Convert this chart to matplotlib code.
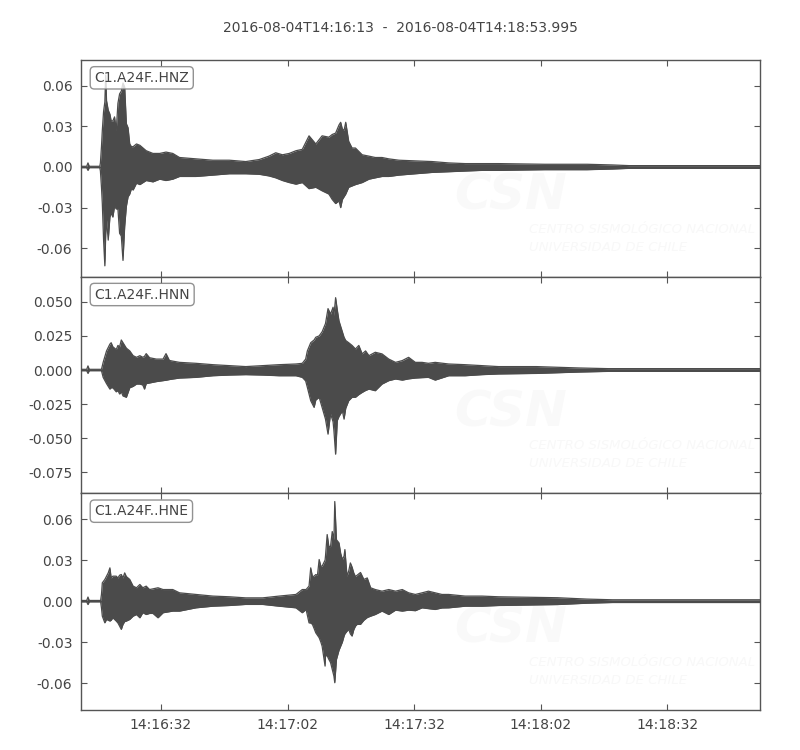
import matplotlib
matplotlib.use("Agg")
import matplotlib.pyplot as plt
import numpy as np

plt.rcParams["axes.unicode_minus"] = False

# seconds after 2016-08-04T14:16:13, amplitudes in units of 1e-3
channels = ["C1.A24F..HNZ", "C1.A24F..HNN", "C1.A24F..HNE"]
title = "2016-08-04T14:16:13  -  2016-08-04T14:18:53.995"
xtick_pos = [19, 49, 79, 109, 139]
xtick_labels = ["14:16:32", "14:17:02", "14:17:32", "14:18:02", "14:18:32"]
duration = 160.995

t_hnz = [0, 1.4, 1.7, 2.0, 4.5, 4.65, 4.9, 5.1, 5.4, 5.7, 5.9, 6.1, 6.5, 6.9, 7.2, 7.6,
         8.0, 8.4, 8.8, 9.2, 9.6, 10.0, 10.4, 10.8, 11.2, 11.6, 12.0, 12.4, 13.2, 14.0,
         15.5, 17.1, 18.7, 20.2, 21.8, 23.4, 27.3, 31.3, 35.2, 39.1, 42.3, 44.6, 46.2,
         47.8, 49.4, 51.0, 52.5, 54.1, 55.7, 57.2, 58.8, 59.6, 60.4, 61.2, 61.6, 62.0,
         62.4, 62.8, 63.5, 64.3, 65.1, 66.7, 68.3, 69.8, 71.4, 73.0, 75.4, 79.3, 83.3,
         87.2, 91.1, 95.1, 99.0, 110, 120, 126, 130, 161]
up_hnz = [0.5, 0.5, 3, 0.5, 0.5, 3, 15, 27, 41, 48, 68, 49, 42, 39, 34, 34,
          37, 27, 47, 54, 56, 62, 59, 32, 29, 17, 15, 15, 17, 16,
          12, 10, 10, 11, 10, 7, 6, 5, 5, 4, 5.5, 8, 10.5,
          9, 10, 12, 13, 23, 17, 23, 22, 24, 25, 31, 33, 28,
          27, 33, 19, 14, 14, 9, 8, 7, 7, 6, 5, 4.5, 4,
          3, 2.5, 2.5, 2.5, 2, 2, 1.5, 1, 1]
lo_hnz = [-0.5, -0.5, -2.5, -0.5, -0.5, -3, -15, -27, -54, -73, -50, -39, -54, -37, -34, -37,
          -29, -31, -31, -49, -51, -69, -44, -29, -22, -20, -16, -17, -12, -13,
          -10, -11, -9, -10, -9, -7, -7, -6, -5, -5, -5.4, -6.6, -8,
          -10, -11.5, -12.7, -11.5, -16, -15, -17.6, -20, -24, -27, -25, -30, -24,
          -22, -20, -15, -14, -13, -11.5, -9, -8, -7, -7, -6, -5, -4,
          -3.5, -3, -2.5, -2.5, -2, -2, -1.5, -1, -1]

t_hnn = [0, 1.4, 1.7, 2.0, 4.9, 5.1, 5.3, 6.1, 6.9, 7.2, 7.6, 8.4, 8.8, 9.2, 9.6, 10.0,
         10.8, 11.6, 12.4, 13.2, 14.0, 14.7, 15.1, 15.5, 16.3, 17.1, 17.9, 19.5, 20.2,
         21.0, 21.8, 23.4, 27.3, 31.3, 35.2, 39.1, 43.1, 47.0, 51.0, 52.5, 53.3, 53.7,
         54.5, 55.3, 55.7, 56.5, 57.2, 58.0, 58.6, 59.2, 59.8, 60.0, 60.4, 60.8, 61.2,
         61.6, 62.0, 62.4, 62.8, 63.5, 64.3, 65.1, 65.9, 66.7, 67.5, 68.3, 69.8, 71.4,
         73.0, 74.6, 76.2, 77.7, 79.3, 80.9, 82.4, 84.0, 87.2, 91.1, 95.1, 99.0, 108,
         118, 125, 161]
up_hnn = [0.5, 0.5, 3, 0.5, 0.5, 3, 5.6, 14, 19, 20, 17, 15, 18, 17, 22, 20,
          16, 14, 10.5, 9.3, 10.5, 9.3, 10, 12, 9, 8.5, 8, 8, 12,
          7, 6.5, 5.6, 4.9, 3.9, 3.2, 2.5, 3.2, 3.9, 4.4, 4.9, 8, 14,
          20, 22, 24, 25, 28, 34, 45, 41, 46, 40, 53, 44, 36,
          32, 28, 24, 21.6, 20, 18, 15.4, 18, 11.8, 14, 10.5, 13, 11.8,
          8, 5.6, 6.9, 9.3, 5.6, 5.6, 4.9, 5.6, 4.4, 3.9, 3.2, 2.5, 2.5,
          1.5, 1, 1]
lo_hnn = [-0.5, -0.5, -2.5, -0.5, -0.5, -3, -5.4, -10, -14, -13, -13, -16, -15, -17.6, -16, -19,
          -20, -13, -12, -10.3, -10.3, -11, -14, -10, -9.5, -9, -8.5, -7.8, -7.5,
          -7, -6.6, -5.9, -5.4, -4.2, -3.7, -3.4, -3.7, -4.2, -4.2, -5.4, -8, -12.7,
          -22.5, -27.4, -22, -20, -27.4, -36, -47, -32, -38, -44.6, -61.7, -37, -34,
          -32, -30, -36, -28, -22.5, -20, -20, -18, -16.4, -15, -14, -15.2, -10.3,
          -7.8, -6.6, -7.4, -6.5, -5.9, -5.6, -5.4, -7.4, -4.2, -4.2, -3.4, -2.9, -2.5,
          -1.5, -1, -1]

t_hne = [0, 1.4, 1.7, 2.0, 4.7, 4.9, 5.1, 5.7, 6.1, 6.5, 6.9, 7.2, 7.6, 8.4, 8.8, 9.2,
         9.6, 10.0, 10.4, 10.8, 11.6, 12.4, 13.2, 14.0, 14.7, 15.5, 16.3, 17.1, 18.3,
         19.5, 21.8, 23.4, 27.3, 31.3, 35.2, 39.1, 43.1, 47.0, 51.0, 52.5, 53.4, 54.1,
         54.5, 54.9, 55.3, 55.7, 56.1, 56.5, 56.9, 57.2, 57.9, 58.0, 58.4, 58.8, 59.2,
         59.6, 60.0, 60.2, 60.6, 61.2, 61.6, 62.0, 62.4, 62.6, 63.1, 63.5, 63.9, 64.3,
         64.7, 65.1, 65.5, 66.3, 67.1, 67.9, 68.7, 69.8, 71.4, 73.0, 74.6, 76.2, 77.7,
         79.3, 80.9, 82.4, 84.0, 85.6, 87.2, 91.1, 95.1, 99.0, 113, 120, 126, 161]
up_hne = [0.5, 0.5, 3, 0.5, 0.5, 5, 13.4, 15.9, 18.3, 20.7, 24.4, 17, 18.3, 18.3, 17, 19,
          19.5, 17, 20.7, 18, 15.9, 11, 9.8, 12.2, 9.8, 11, 8.5, 9, 9.8,
          8.5, 8.5, 6.1, 4.9, 3.7, 3.2, 2.4, 2.4, 3.7, 4.9, 8.5, 8.5, 11,
          24.4, 18, 18.3, 19.5, 19, 30.5, 25.6, 25.6, 30, 33, 48.8, 40, 40,
          51, 45, 73, 45, 42.7, 35, 30.5, 33, 37.8, 18.3, 22, 28, 25,
          20.7, 18, 19, 21, 15.9, 17, 9.8, 8.5, 7.3, 8.5, 7.3, 8.5, 6.1,
          4.9, 6.1, 7.3, 6.1, 4.9, 4.9, 3.7, 3.7, 3.2, 2.5, 1.5, 1, 1]
lo_hne = [-0.5, -0.5, -2.5, -0.5, -0.5, -5, -11, -15.9, -13.4, -14, -14.6, -14, -12.2, -14.6, -16, -18.3,
          -20.7, -17, -15, -14.6, -13.4, -11, -9.8, -12.2, -8.5, -9.8, -9, -9, -12.2,
          -8.5, -7.3, -7.3, -4.9, -3.7, -3.2, -2.4, -2.4, -3.7, -4.9, -8.5, -6.1, -15.9,
          -16, -17, -20, -23.2, -25, -26.8, -30, -33, -47.6, -40, -40, -42.7, -45,
          -50, -55, -59.8, -42.7, -36, -33, -30, -25.6, -24, -22, -20.7, -24, -25.6,
          -21, -18.3, -17, -17, -14, -12, -11, -9.8, -7.3, -9.8, -6.6, -7.3, -6.6,
          -7, -4.9, -5.5, -6.1, -5, -4.9, -3.7, -3.7, -3.2, -2.5, -1.5, -1, -1]

times = [t_hnz, t_hnn, t_hne]
uppers = [up_hnz, up_hnn, up_hne]
lowers = [lo_hnz, lo_hnn, lo_hne]
ylims = [(-0.081, 0.079), (-0.0904, 0.0684), (-0.0798, 0.079)]
yticks = [[-0.06, -0.03, 0.0, 0.03, 0.06],
          [-0.075, -0.05, -0.025, 0.0, 0.025, 0.05],
          [-0.06, -0.03, 0.0, 0.03, 0.06]]
yfmt = ["%.2f", "%.3f", "%.2f"]

trace_color = "#4b4b4b"
frame_color = "#555555"
text_color = "#444444"

fig = plt.figure(figsize=(8, 7.5), dpi=100)
left, right, top, bottom = 0.101, 0.95, 0.92, 0.0533
h = (top - bottom) / 3
for i in range(3):
    ax = fig.add_axes([left, top - (i + 1) * h, right - left, h])
    t = np.array(times[i])
    up = np.array(uppers[i]) * 1e-3
    lo = np.array(lowers[i]) * 1e-3
    ax.fill_between(t, lo, up, color=trace_color, lw=0, zorder=3)
    ax.plot(t, up, color=trace_color, lw=0.9, zorder=3)
    ax.plot(t, lo, color=trace_color, lw=0.9, zorder=3)

    # very faint logo watermark
    ax.text(0.55, 0.31, "CSN", transform=ax.transAxes, fontsize=36, fontweight="bold",
            style="italic", color="#f9f9f9", zorder=1)
    ax.text(0.66, 0.12, "CENTRO SISMOLÓGICO NACIONAL\nUNIVERSIDAD DE CHILE",
            transform=ax.transAxes, fontsize=9.5, style="italic", color="#f8f8f8",
            linespacing=1.5, zorder=1)

    ax.set_xlim(0, duration)
    ax.set_ylim(*ylims[i])
    ax.set_yticks(yticks[i])
    ax.set_yticklabels([yfmt[i] % v for v in yticks[i]])
    ax.set_xticks(xtick_pos)
    if i == 2:
        ax.set_xticklabels(xtick_labels)
    else:
        ax.set_xticklabels([])
    ax.tick_params(direction="in", top=True, right=True, length=4, width=0.8,
                   colors=frame_color, labelcolor=text_color, labelsize=10, pad=6)
    for s in ax.spines.values():
        s.set_color(frame_color)
        s.set_linewidth(1.0)
    ax.text(0.02, 0.95, channels[i], transform=ax.transAxes, va="top", ha="left",
            fontsize=10, color=text_color, zorder=5,
            bbox=dict(boxstyle="round,pad=0.3", fc="white", ec="#777777", alpha=0.8))

fig.suptitle(title, y=0.972, fontsize=10, color=text_color)

fig.savefig("out.png", dpi=100)
